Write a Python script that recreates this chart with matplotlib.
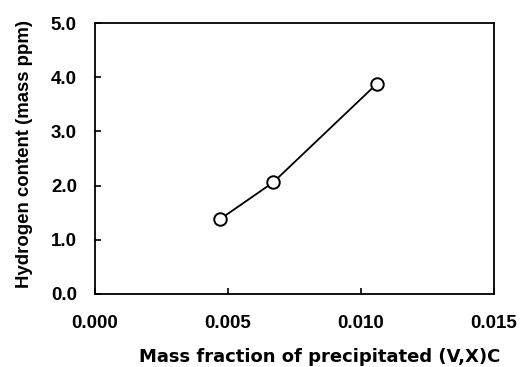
import matplotlib
matplotlib.use("Agg")
import matplotlib.pyplot as plt

mass_fraction = [0.0047, 0.0067, 0.0106]
hydrogen_ppm = [1.38, 2.06, 3.88]
x_ticks = [0.000, 0.005, 0.010, 0.015]
x_tick_labels = ["0.000", "0.005", "0.010", "0.015"]
y_ticks = [0.0, 1.0, 2.0, 3.0, 4.0, 5.0]
y_tick_labels = ["0.0", "1.0", "2.0", "3.0", "4.0", "5.0"]
x_label = "Mass fraction of precipitated (V,X)C"
y_label = "Hydrogen content (mass ppm)"

W, H = 528, 367
fig = plt.figure(figsize=(W / 100, H / 100), dpi=100)
left, right, top, bottom = 95, 494, 23, 294
ax = fig.add_axes([left / W, 1 - bottom / H, (right - left) / W, (bottom - top) / H])

ax.plot(mass_fraction, hydrogen_ppm, color="black", lw=1.3, marker="o",
        markersize=9, markerfacecolor="white", markeredgecolor="black",
        markeredgewidth=1.4, zorder=3)

ax.set_xlim(0, 0.015)
ax.set_ylim(0, 5.0)
ax.set_xticks(x_ticks)
ax.set_xticklabels(x_tick_labels, fontfamily="Liberation Sans", fontweight="bold", fontsize=13.5)
ax.set_yticks(y_ticks)
ax.set_yticklabels(y_tick_labels, fontfamily="Liberation Sans", fontweight="bold", fontsize=13.5)
ax.tick_params(axis="x", direction="in", length=4, width=1.2, pad=15, top=False)
ax.tick_params(axis="y", direction="in", length=4, width=1.2, pad=13, right=False)
for s in ax.spines.values():
    s.set_linewidth(1.3)

fig.text(320 / W, 1 - 362 / H, x_label, ha="center", va="baseline",
         fontfamily="DejaVu Sans", fontweight="bold", fontsize=13)
fig.text(25 / W, 1 - 154 / H, y_label, ha="center", va="center", rotation=90,
         fontfamily="Liberation Sans", fontweight="bold", fontsize=13.4)

fig.savefig("out.png", dpi=100)
